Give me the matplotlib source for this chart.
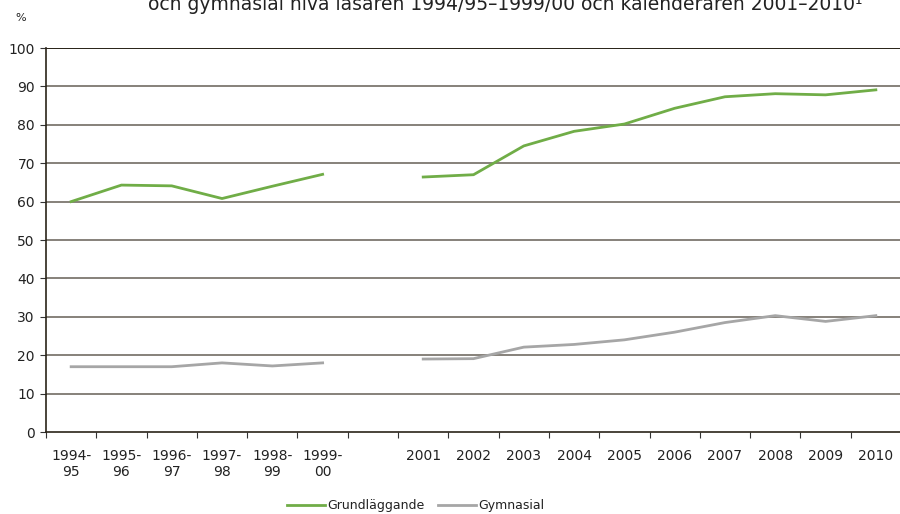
import numpy as np
import matplotlib.pyplot as plt

# categories (one empty slot between the school years and calendar years)
labels = ["1994-\n95", "1995-\n96", "1996-\n97", "1997-\n98", "1998-\n99", "1999-\n00", "",
          "2001", "2002", "2003", "2004", "2005", "2006", "2007", "2008", "2009", "2010"]
grund = [60.0, 64.3, 64.1, 60.8, 64.0, 67.1, np.nan,
         66.4, 67.0, 74.5, 78.3, 80.2, 84.3, 87.3, 88.1, 87.8, 89.1]
gymn = [17.0, 17.0, 17.0, 18.0, 17.2, 18.0, np.nan,
        19.0, 19.1, 22.1, 22.8, 24.0, 26.0, 28.5, 30.3, 28.8, 30.3]

title = "och gymnasial nivå läsåren 1994/95–1999/00 och kalenderåren 2001–2010\u00b9"

x = np.arange(len(labels))

fig = plt.figure(figsize=(9, 5.14), dpi=100)
ax = fig.add_axes([46/900, 1 - 432/514, 855/900, 384/514])

for y in range(10, 101, 10):
    ax.axhline(y, color="#7d776f", lw=1.3, zorder=1)

ax.plot(x, grund, color="#70ad47", lw=2.0, zorder=3, label="Grundläggande")
ax.plot(x, gymn, color="#a6a6a6", lw=2.0, zorder=3, label="Gymnasial")

ax.set_xlim(-0.5, len(labels) - 0.5)
ax.set_ylim(0, 100)
ax.set_yticks(range(0, 101, 10))
ax.set_xticks(np.arange(-0.5, len(labels), 1.0))
ax.set_xticklabels([])
ax.set_xticks(x, minor=True)
ax.set_xticklabels(labels, minor=True, fontsize=10, color="#222222")
ax.tick_params(axis="x", which="minor", length=0, pad=12)
ax.tick_params(axis="x", which="major", length=4, color="#333333", direction="out")
ax.tick_params(axis="y", length=4, color="#333333", labelsize=10, labelcolor="#222222", pad=4)

for s in ["top", "right"]:
    ax.spines[s].set_visible(False)
ax.spines["left"].set_color("#2a2419")
ax.spines["bottom"].set_color("#2a2419")
ax.spines["left"].set_linewidth(1.2)
ax.spines["bottom"].set_linewidth(1.2)
ax.axhline(100, color="#2a2419", lw=1.4, zorder=2)

fig.text(15/900, 1 - 18/514, "%", fontsize=8, color="#222222", ha="left", va="center")
fig.text(505/900, 1 - 10/514, title, fontsize=13.5, color="#222222", ha="center", va="baseline")

fig.legend(loc="center", bbox_to_anchor=(416/900, 1 - 506/514), ncol=2, frameon=False,
           fontsize=9, handlelength=3.0, handletextpad=0.2, columnspacing=1.1,
           labelcolor="#222222")

fig.savefig("out.png", dpi=100)
